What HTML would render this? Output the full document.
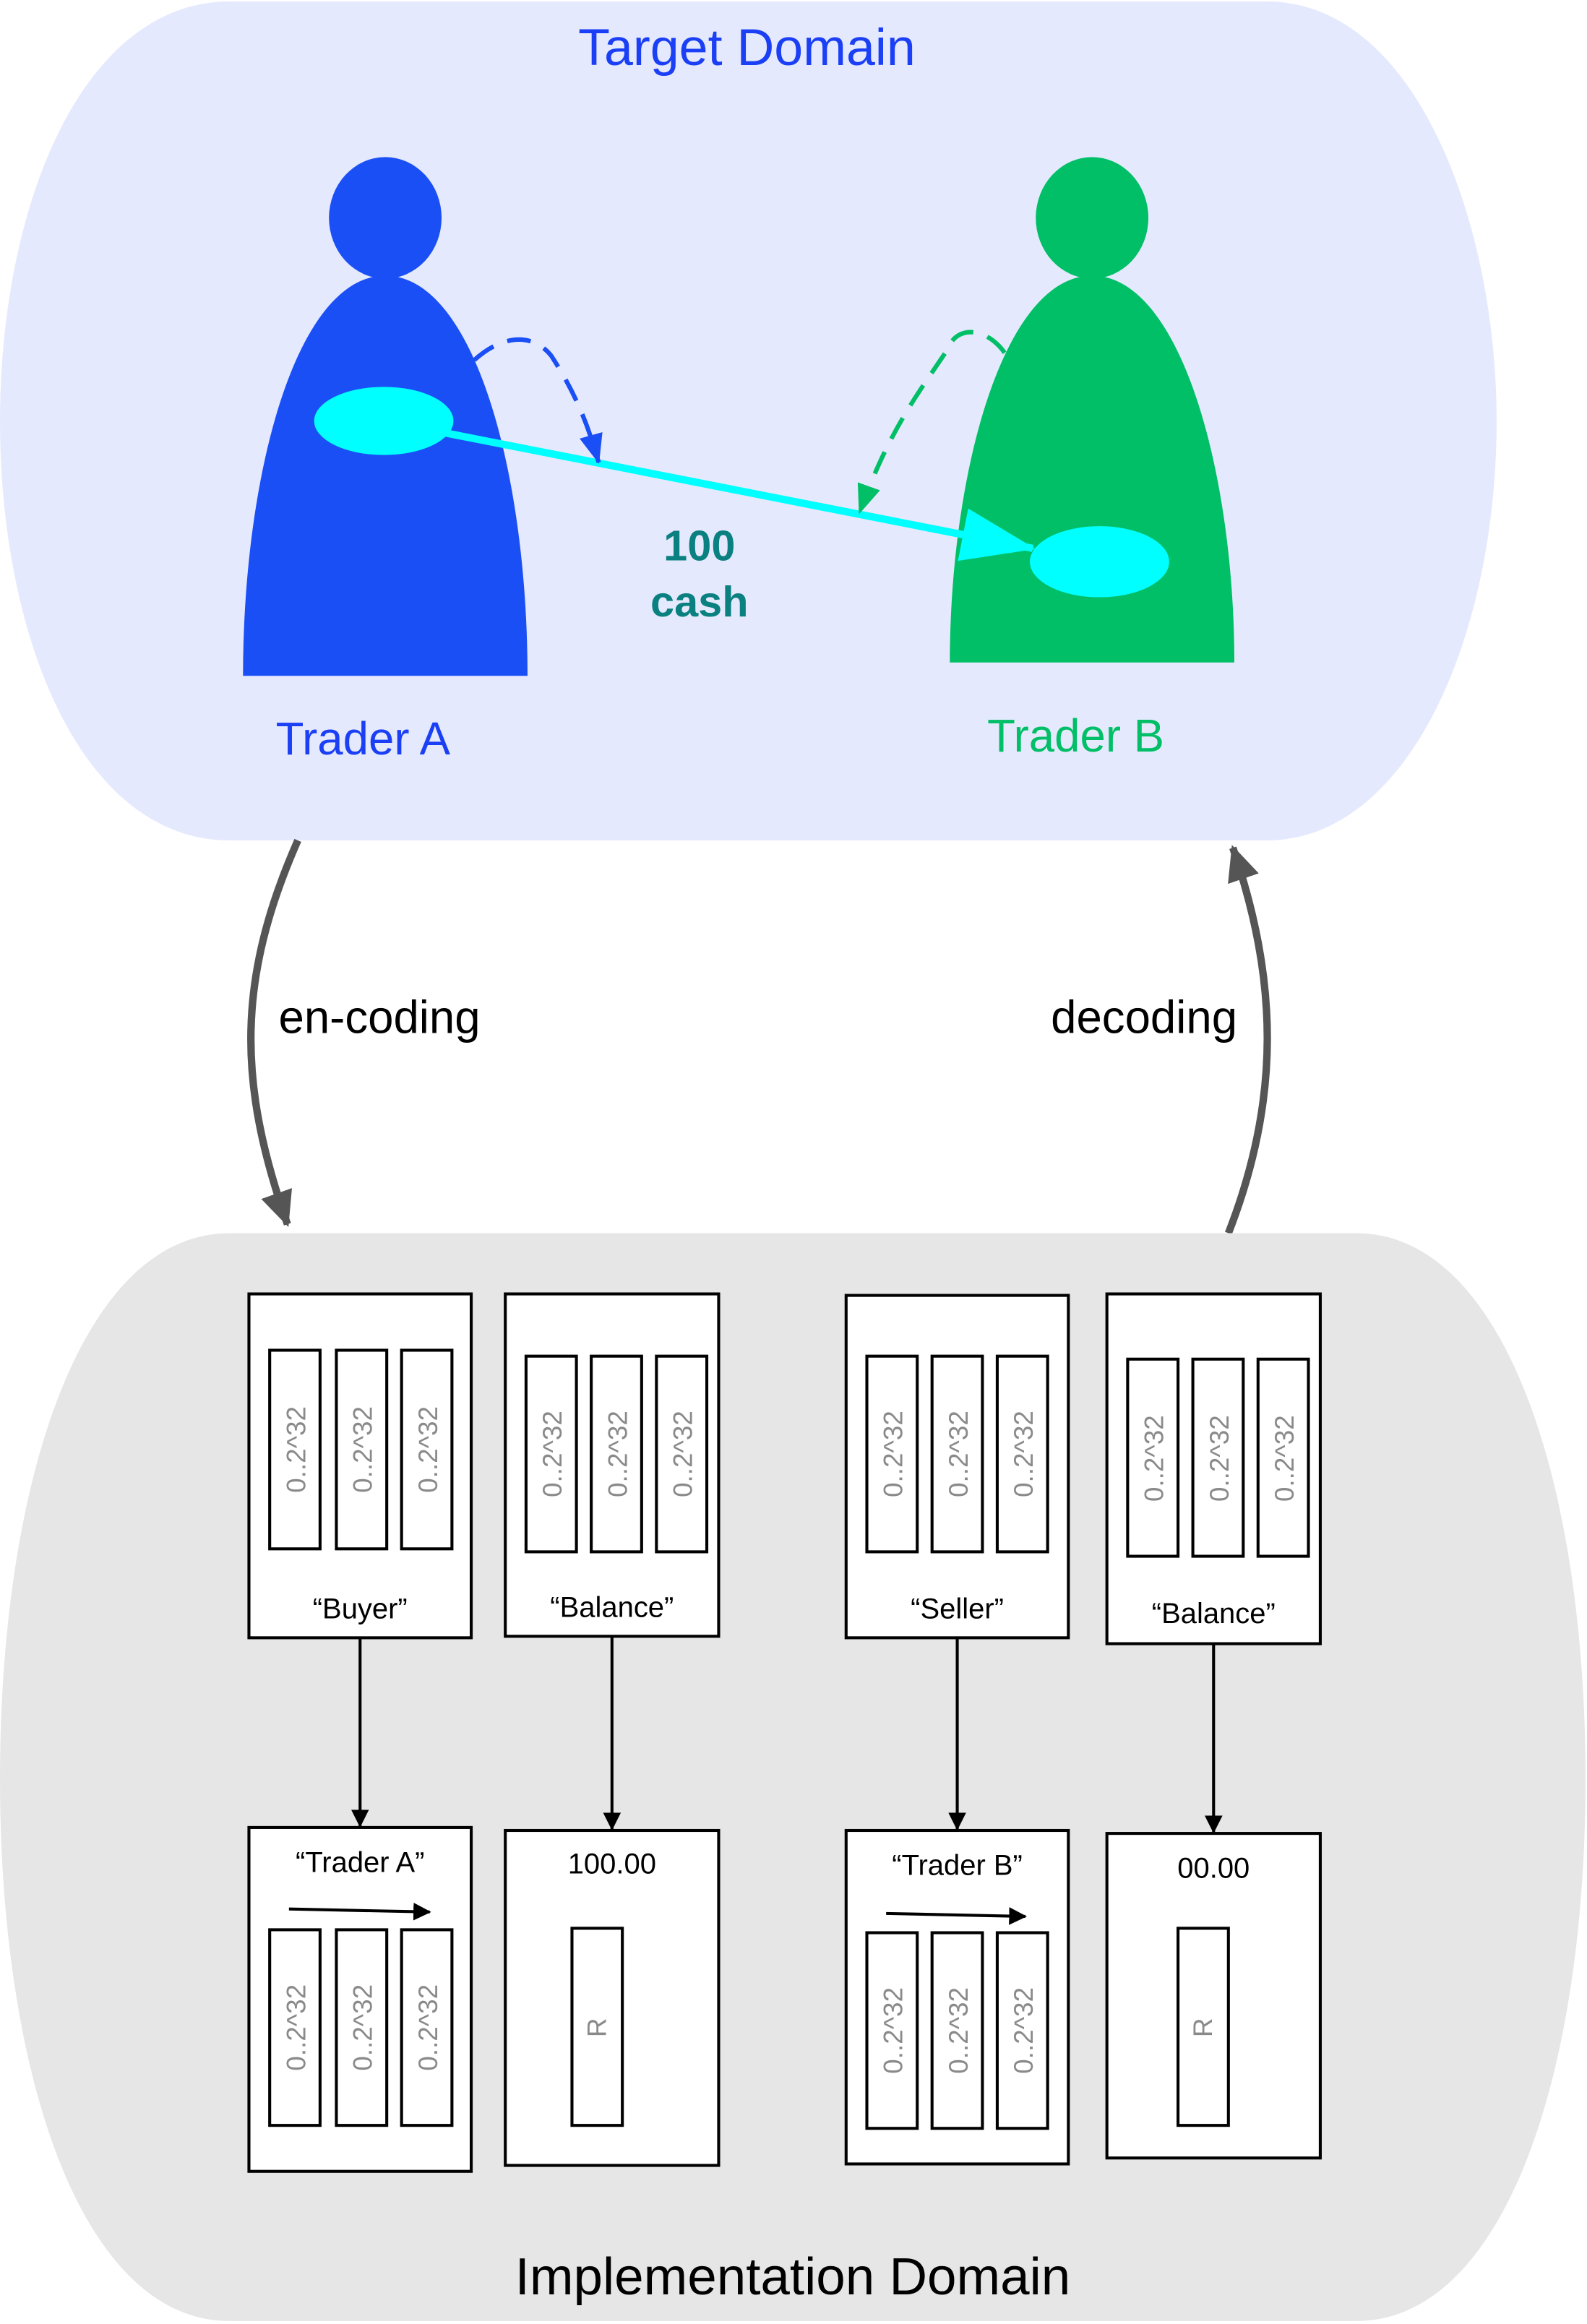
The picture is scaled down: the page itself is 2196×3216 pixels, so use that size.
<!DOCTYPE html>
<html><head><meta charset="utf-8"><style>
html,body{margin:0;padding:0;background:#fff;}
svg{display:block;}
text{font-family:"Liberation Sans",Arial,sans-serif;}
.g{fill:#8a8a8a;font-size:18px;}
.bx{fill:#fff;stroke:#000;stroke-width:2;}
.lb{fill:#000;font-size:19.5px;text-anchor:middle;}
</style></head><body>
<svg width="2196" height="3216" viewBox="0 0 1071 1568" preserveAspectRatio="none" xmlns="http://www.w3.org/2000/svg">
<defs>
<marker id="ab" markerWidth="12" markerHeight="12" refX="11" refY="6" orient="auto" markerUnits="userSpaceOnUse"><path d="M0,0 L12,6 L0,12z" fill="#000"/></marker>
<marker id="ablue" markerWidth="20" markerHeight="16" refX="19" refY="8" orient="auto" markerUnits="userSpaceOnUse"><path d="M0,0 L20,8 L0,16z" fill="#1a4ff5"/></marker>
<marker id="agreen" markerWidth="20" markerHeight="16" refX="19" refY="8" orient="auto" markerUnits="userSpaceOnUse"><path d="M0,0 L20,8 L0,16z" fill="#00bf66"/></marker>
<marker id="acyan" markerWidth="50" markerHeight="36" refX="48" refY="18" orient="auto" markerUnits="userSpaceOnUse"><path d="M0,0 L50,18 L0,36z" fill="#00ffff"/></marker>
<marker id="agray" markerWidth="24" markerHeight="22" refX="22" refY="11" orient="auto" markerUnits="userSpaceOnUse"><path d="M0,0 L24,11 L0,22z" fill="#555"/></marker>
</defs>
<path d="M155,1 L855,1 C955,1 1010,150 1010,284 C1010,430 950,567 855,567 L155,567 C55,567 0,430 0,284 C0,140 55,1 155,1Z" fill="#e5e9fd"/>
<text x="504" y="44" font-size="35" fill="#1a3ff5" text-anchor="middle">Target Domain</text>
<ellipse cx="260" cy="147" rx="38" ry="41" fill="#1a4ff5"/>
<path d="M164,456 C164,320 200,186 260,186 C320,186 356,320 356,456Z" fill="#1a4ff5"/>
<ellipse cx="259" cy="284" rx="47" ry="23" fill="#00ffff"/>
<ellipse cx="737" cy="147" rx="38" ry="41" fill="#00bf66"/>
<path d="M641,447 C641,320 677,186 737,186 C797,186 833,320 833,447Z" fill="#00bf66"/>
<ellipse cx="742" cy="379" rx="47" ry="24" fill="#00ffff"/>
<line x1="300" y1="292" x2="697" y2="370" stroke="#00ffff" stroke-width="5" marker-end="url(#acyan)"/>
<text x="472" y="378" font-size="29" font-weight="bold" fill="#0a8080" text-anchor="middle">100</text>
<text x="472" y="416" font-size="29" font-weight="bold" fill="#0a8080" text-anchor="middle">cash</text>
<path d="M320,243 C340,225 360,225 372,240 C385,260 395,280 404,312" fill="none" stroke="#1a4ff5" stroke-width="3" stroke-dasharray="16,10" marker-end="url(#ablue)"/>
<path d="M678,238 C665,220 645,220 640,235 C620,265 600,290 580,346" fill="none" stroke="#00bf66" stroke-width="3" stroke-dasharray="16,10" marker-end="url(#agreen)"/>
<text x="245" y="509" font-size="31" fill="#1a3ff5" text-anchor="middle">Trader A</text>
<text x="726" y="507" font-size="31" fill="#00bf66" text-anchor="middle">Trader B</text>
<path d="M201,567 C160,660 160,730 194,826" fill="none" stroke="#555" stroke-width="5" marker-end="url(#agray)"/>
<path d="M829,832 C865,740 862,660 832,572" fill="none" stroke="#555" stroke-width="5" marker-end="url(#agray)"/>
<text x="188" y="697" font-size="31" fill="#000">en-coding</text>
<text x="835" y="697" font-size="31" fill="#000" text-anchor="end">decoding</text>
<path d="M155,832 L915,832 C1015,832 1070,1000 1070,1200 C1070,1400 1015,1566 915,1566 L155,1566 C55,1566 0,1400 0,1200 C0,1000 55,832 155,832Z" fill="#e6e6e6"/>
<text x="535" y="1548" font-size="35.5" fill="#000" text-anchor="middle">Implementation Domain</text>
<rect class="bx" x="168" y="873" width="150" height="232"/>
<rect class="bx" x="341" y="873" width="144" height="231"/>
<rect class="bx" x="571" y="874" width="150" height="231"/>
<rect class="bx" x="747" y="873" width="144" height="236"/>
<g fill="none" stroke="#000" stroke-width="2">
<rect x="182" y="911" width="34" height="134"/><rect x="227" y="911" width="34" height="134"/><rect x="271" y="911" width="34" height="134"/>
<rect x="355" y="915" width="34" height="132"/><rect x="399" y="915" width="34" height="132"/><rect x="443" y="915" width="34" height="132"/>
<rect x="585" y="915" width="34" height="132"/><rect x="629" y="915" width="34" height="132"/><rect x="673" y="915" width="34" height="132"/>
<rect x="761" y="917" width="34" height="133"/><rect x="805" y="917" width="34" height="133"/><rect x="849" y="917" width="34" height="133"/>
</g>
<g class="g" text-anchor="middle">
<text transform="translate(206,978) rotate(-90)">0..2^32</text>
<text transform="translate(251,978) rotate(-90)">0..2^32</text>
<text transform="translate(295,978) rotate(-90)">0..2^32</text>
<text transform="translate(379,981) rotate(-90)">0..2^32</text>
<text transform="translate(423,981) rotate(-90)">0..2^32</text>
<text transform="translate(467,981) rotate(-90)">0..2^32</text>
<text transform="translate(609,981) rotate(-90)">0..2^32</text>
<text transform="translate(653,981) rotate(-90)">0..2^32</text>
<text transform="translate(697,981) rotate(-90)">0..2^32</text>
<text transform="translate(785,984) rotate(-90)">0..2^32</text>
<text transform="translate(829,984) rotate(-90)">0..2^32</text>
<text transform="translate(873,984) rotate(-90)">0..2^32</text>
</g>
<text class="lb" x="243" y="1092">“Buyer”</text>
<text class="lb" x="413" y="1091">“Balance”</text>
<text class="lb" x="646" y="1092">“Seller”</text>
<text class="lb" x="819" y="1095">“Balance”</text>
<g stroke="#000" stroke-width="2">
<line x1="243" y1="1105" x2="243" y2="1232" marker-end="url(#ab)"/>
<line x1="413" y1="1104" x2="413" y2="1234" marker-end="url(#ab)"/>
<line x1="646" y1="1105" x2="646" y2="1234" marker-end="url(#ab)"/>
<line x1="819" y1="1109" x2="819" y2="1236" marker-end="url(#ab)"/>
</g>
<rect class="bx" x="168" y="1233" width="150" height="232"/>
<rect class="bx" x="341" y="1235" width="144" height="226"/>
<rect class="bx" x="571" y="1235" width="150" height="225"/>
<rect class="bx" x="747" y="1237" width="144" height="219"/>
<g fill="none" stroke="#000" stroke-width="2">
<rect x="182" y="1302" width="34" height="132"/><rect x="227" y="1302" width="34" height="132"/><rect x="271" y="1302" width="34" height="132"/>
<rect x="386" y="1301" width="34" height="133"/>
<rect x="585" y="1304" width="34" height="132"/><rect x="629" y="1304" width="34" height="132"/><rect x="673" y="1304" width="34" height="132"/>
<rect x="795" y="1301" width="34" height="133"/>
</g>
<g class="g" text-anchor="middle">
<text transform="translate(206,1368) rotate(-90)">0..2^32</text>
<text transform="translate(251,1368) rotate(-90)">0..2^32</text>
<text transform="translate(295,1368) rotate(-90)">0..2^32</text>
<text transform="translate(409,1368) rotate(-90)">R</text>
<text transform="translate(609,1370) rotate(-90)">0..2^32</text>
<text transform="translate(653,1370) rotate(-90)">0..2^32</text>
<text transform="translate(697,1370) rotate(-90)">0..2^32</text>
<text transform="translate(818,1368) rotate(-90)">R</text>
</g>
<text class="lb" x="243" y="1263">“Trader A”</text>
<text class="lb" x="413" y="1264">100.00</text>
<text class="lb" x="646" y="1265">“Trader B”</text>
<text class="lb" x="819" y="1267">00.00</text>
<g stroke="#000" stroke-width="2">
<line x1="195" y1="1288" x2="290" y2="1290" marker-end="url(#ab)"/>
<line x1="598" y1="1291" x2="692" y2="1293" marker-end="url(#ab)"/>
</g>
</svg>
</body></html>
